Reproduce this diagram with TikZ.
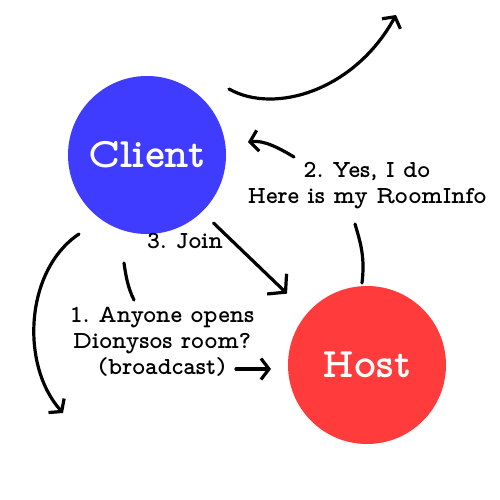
\documentclass[tikz,border=0pt]{standalone}
\usepackage{fontspec}
\newfontfamily\typefont{lmmonoproplt10-bold.otf}
\usetikzlibrary{arrows.meta}
\definecolor{clientblue}{HTML}{3F3BFF}
\definecolor{hostred}{HTML}{FF3B3B}
\tikzset{
  peer/.style={circle,minimum size=158pt,inner sep=0pt,text=white,font=\typefont\fontsize{42}{46}\selectfont},
  note/.style={align=center,inner sep=0pt,font=\typefont\frenchspacing\fontsize{24.5}{26}\selectfont},
  link/.style={line width=3.2pt,line cap=round},
  flow/.style={link,-{Straight Barb[length=8pt,width=21pt]}},
  bigflow/.style={link,-{Straight Barb[length=12pt,width=28pt]}}
}
\begin{document}
\begin{tikzpicture}[x=1pt,y=-1pt]
  \useasboundingbox (0,0) rectangle (500,500);
  \node[peer,fill=clientblue] (cl) at (147,155) {Client};
  \node[peer,fill=hostred] (ho) at (367,365) {Host};
  \node[note] (reply) at (367,186) {2. Yes, I do\\Here is my RoomInfo};
  \node[note] (join) at (185,241) {3. Join};
  \node[note] (ask) at (162,342) {1. Anyone opens\\Dionysos room?\\(broadcast)};
  % free ends
  \coordinate (outa) at (229,89);
  \coordinate (outb) at (396,15);
  \coordinate (loopa) at (79,234);
  \coordinate (loopb) at (63,413);
  \coordinate (aska) at (124,263);
  \coordinate (askb) at (134,300);
  \coordinate (bca) at (236,369);
  \coordinate (bcb) at (271,369);
  \coordinate (rpa) at (362,283);
  \coordinate (rpb) at (355,224);
  \coordinate (rpc) at (294,157);
  \coordinate (rpd) at (248,142);
  \draw[flow] (outa) .. controls +(46,26) and +(-41,75) .. (outb);
  \draw[flow] (loopa) .. controls +(-54,36) and +(-43,-48) .. (loopb);
  \draw[link] (aska) .. controls +(2,14) and +(-6,-12) .. (askb);
  \draw[flow] (bca) -- (bcb);
  \draw[bigflow,shorten <=16pt,shorten >=28pt] (cl.-46) -- (ho.139);
  \draw[link] (rpa) .. controls +(3,-25) and +(6,20) .. (rpb);
  \draw[flow] (rpc) .. controls +(-15,-9) and +(16,-2) .. (rpd);
\end{tikzpicture}
\end{document}
